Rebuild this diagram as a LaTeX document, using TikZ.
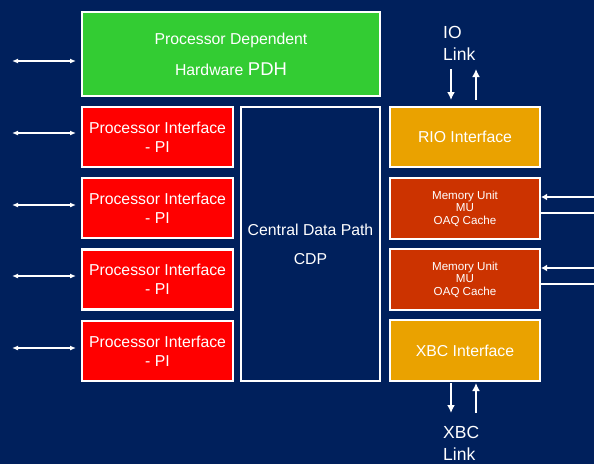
\documentclass[tikz,border=0pt]{standalone}
\usepackage{fontspec}
\setmainfont{Liberation Sans}
\usetikzlibrary{arrows.meta}
\definecolor{navy}{RGB}{0,32,92}
\definecolor{pdhgreen}{RGB}{51,204,51}
\definecolor{pired}{RGB}{255,0,0}
\definecolor{ioorange}{RGB}{234,162,0}
\definecolor{murust}{RGB}{204,51,0}
\begin{document}
\begin{tikzpicture}[x=1pt,y=-1pt,
  block/.style={draw=white, line width=2.2pt, text=white, align=center,
    inner sep=0pt, minimum height=60pt},
  pibox/.style={block, fill=pired, minimum width=151pt,
    font=\fontsize{15.8}{19}\selectfont},
  sidebox/.style={block, minimum width=150pt},
  mubox/.style={sidebox, fill=murust, font=\fontsize{11.6}{12.5}\selectfont},
  iobox/.style={sidebox, fill=ioorange, font=\fontsize{15.8}{19}\selectfont},
  bus/.style={draw=white, line width=1.5pt, {Latex[length=6pt,width=5pt]}-{Latex[length=6pt,width=5pt]}},
  memlink/.style={draw=white, line width=2pt},
  link/.style={draw=white, line width=2.6pt, -{Latex[length=8pt,width=8pt]}},
  label/.style={text=white, align=left, anchor=west, inner sep=0pt,
    font=\fontsize{17.5}{22}\selectfont}
]
\useasboundingbox (0,0) rectangle (594,464);
\fill[navy] (0,0) rectangle (594,464);

% Left column: processor-dependent hardware and processor interfaces
\node[block, fill=pdhgreen, minimum width=298pt, minimum height=84pt,
  font=\fontsize{15.8}{31}\selectfont] (pdh) at (231,54)
  {Processor Dependent\\Hardware {\fontsize{18.5}{20}\selectfont PDH}};
\node[pibox] (pi1) at (157.5,137) {Processor Interface\\- PI};
\node[pibox] (pi2) at (157.5,208) {Processor Interface\\- PI};
\node[pibox] (pi3) at (157.5,279.5) {Processor Interface\\- PI};
\node[pibox] (pi4) at (157.5,351) {Processor Interface\\- PI};

% Central data path
\node[block, minimum width=139pt, minimum height=274pt,
  font=\fontsize{15.8}{29}\selectfont] (cdp) at (310.5,244)
  {Central Data Path\\CDP};

% Right column
\node[iobox] (rio) at (465,137) {RIO Interface};
\node[mubox, minimum height=61pt] (mu1) at (465,208.5) {Memory Unit\\MU\\OAQ Cache};
\node[mubox, minimum height=61pt] (mu2) at (465,279.5) {Memory Unit\\MU\\OAQ Cache};
\node[iobox, minimum height=61pt] (xbc) at (465,350.5) {XBC Interface};

% Bidirectional buses on the left
\foreach \y [count=\i] in {61,133,205,276,348} {
  \coordinate (bl\i) at (12,\y);
  \coordinate (br\i) at (76,\y);
  \draw[bus] (bl\i) -- (br\i);
}

% Memory unit links from the right edge
\coordinate (m1in) at (594,197);
\coordinate (m1out) at (594,213);
\coordinate (m2in) at (594,268);
\coordinate (m2out) at (594,284);
\draw[memlink, -{Latex[length=6pt,width=7pt]}] (m1in) -- (mu1.east |- m1in);
\draw[memlink] (mu1.east |- m1out) -- (m1out);
\draw[memlink, -{Latex[length=6pt,width=7pt]}] (m2in) -- (mu2.east |- m2in);
\draw[memlink] (mu2.east |- m2out) -- (m2out);

% IO link
\node[label] (iolab) at (443,43) {IO\\Link};
\coordinate (iodn0) at (451,69);
\coordinate (iodn1) at (451,100);
\coordinate (ioup0) at (476,100);
\coordinate (ioup1) at (476,69);
\draw[link] (iodn0) -- (iodn1);
\draw[link] (ioup0) -- (ioup1);

% XBC link
\coordinate (xdn0) at (451,383);
\coordinate (xdn1) at (451,413);
\coordinate (xup0) at (476,413);
\coordinate (xup1) at (476,383);
\draw[link] (xdn0) -- (xdn1);
\draw[link] (xup0) -- (xup1);
\node[label] (xbclab) at (443,443) {XBC\\Link};
\end{tikzpicture}
\end{document}
